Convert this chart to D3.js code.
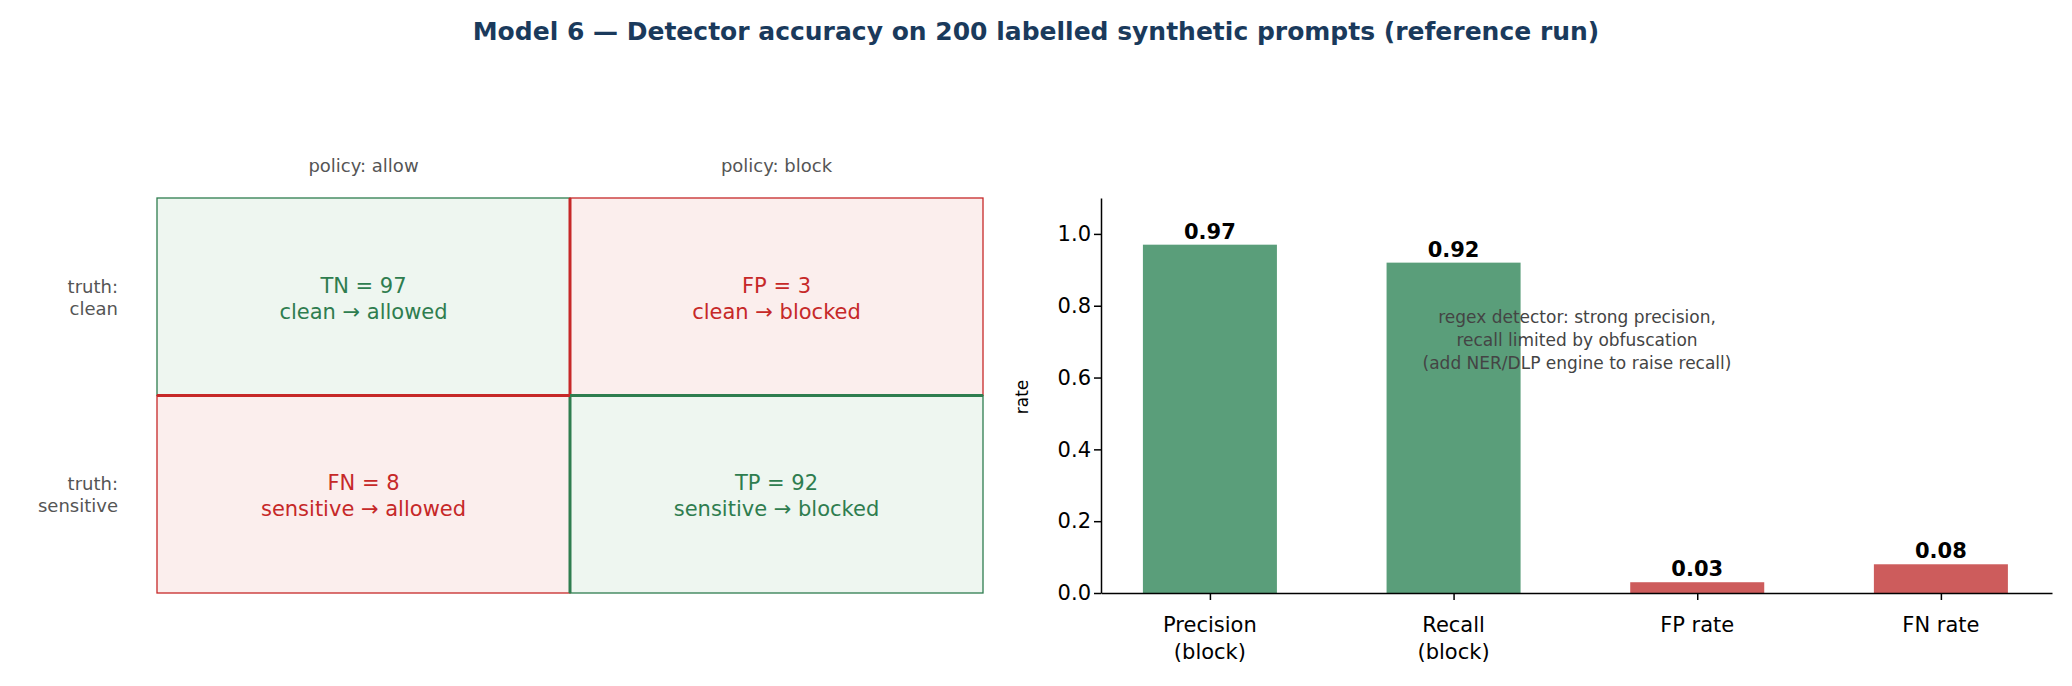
<!DOCTYPE html>
<html><head><meta charset="utf-8">
<script src="https://cdn.jsdelivr.net/npm/d3@7"></script>
<style>body{margin:0;background:#fff;font-family:"DejaVu Sans",sans-serif}</style>
</head><body><div id="chart"></div>
<script>
// confusion matrix
const colLabels = ["policy: allow", "policy: block"];
const rowLabels = [["truth:", "clean"], ["truth:", "sensitive"]];
const cells = [
  {r: 0, c: 0, label: "TN = 97", sub: "clean \u2192 allowed", good: true},
  {r: 0, c: 1, label: "FP = 3", sub: "clean \u2192 blocked", good: false},
  {r: 1, c: 0, label: "FN = 8", sub: "sensitive \u2192 allowed", good: false},
  {r: 1, c: 1, label: "TP = 92", sub: "sensitive \u2192 blocked", good: true}
];
// rates
const metrics = ["Precision\n(block)", "Recall\n(block)", "FP rate", "FN rate"];
const rates = [0.97, 0.92, 0.03, 0.08];
const yTicks = [0, 0.2, 0.4, 0.6, 0.8, 1.0];

var width = 2072, height = 686;
const green = "#2e7d4f", red = "#c62828";

const svg = d3.select("#chart").append("svg")
  .attr("width", width).attr("height", height);

svg.append("text").attr("x", 1036).attr("y", 40).attr("text-anchor", "middle")
  .attr("font-size", 25).attr("font-weight", "bold").attr("fill", "#1a3a5c")
  .text("Model 6 \u2014 Detector accuracy on 200 labelled synthetic prompts (reference run)");

// heatmap
const hx = d3.scaleBand().domain([0, 1]).range([157, 983]);
const hy = d3.scaleBand().domain([0, 1]).range([198, 593]);

const cg = svg.append("g");
cg.selectAll("rect").data(cells).join("rect")
  .attr("x", d => hx(d.c)).attr("y", d => hy(d.r))
  .attr("width", hx.bandwidth()).attr("height", hy.bandwidth())
  .attr("fill", d => d.good ? "#eef6f0" : "#fbeeed")
  .attr("stroke", d => d.good ? green : red).attr("stroke-width", 1.3);
// thicker inner edges
cg.append("line").attr("x1", hx(1)).attr("x2", hx(1)).attr("y1", hy(0)).attr("y2", hy(1))
  .attr("stroke", red).attr("stroke-width", 3);
cg.append("line").attr("x1", hx(1)).attr("x2", hx(1)).attr("y1", hy(1)).attr("y2", 593)
  .attr("stroke", green).attr("stroke-width", 3);
cg.append("line").attr("x1", hx(0)).attr("x2", hx(1)).attr("y1", hy(1)).attr("y2", hy(1))
  .attr("stroke", red).attr("stroke-width", 3);
cg.append("line").attr("x1", hx(1)).attr("x2", 983).attr("y1", hy(1)).attr("y2", hy(1))
  .attr("stroke", green).attr("stroke-width", 3);

cells.forEach(d => {
  const cx = hx(d.c) + hx.bandwidth() / 2, cy = hy(d.r) + hy.bandwidth() / 2;
  const t = cg.append("text").attr("text-anchor", "middle").attr("font-size", 21)
    .attr("fill", d.good ? green : red);
  t.append("tspan").attr("x", cx).attr("y", cy - 4).text(d.label);
  t.append("tspan").attr("x", cx).attr("y", cy + 22).text(d.sub);
});
colLabels.forEach((l, i) => {
  svg.append("text").attr("x", hx(i) + hx.bandwidth() / 2).attr("y", 172)
    .attr("text-anchor", "middle").attr("font-size", 18).attr("fill", "#555").text(l);
});
rowLabels.forEach((l, i) => {
  const t = svg.append("text").attr("text-anchor", "end").attr("font-size", 18).attr("fill", "#555");
  const cy = hy(i) + hy.bandwidth() / 2;
  t.append("tspan").attr("x", 118).attr("y", cy - 4).text(l[0]);
  t.append("tspan").attr("x", 118).attr("y", cy + 18).text(l[1]);
});

// bar chart
const x = d3.scaleLinear().domain([-0.447, 3.456]).range([1101, 2052]);
const y = d3.scaleLinear().domain([0, 1.1]).range([593, 198]);
const bw = x(0.55) - x(0);

svg.append("g").selectAll("rect").data(rates).join("rect")
  .attr("x", (d, i) => x(i) - bw / 2).attr("y", d => y(d))
  .attr("width", bw).attr("height", d => y(0) - y(d))
  .attr("fill", (d, i) => i < 2 ? "#5a9e7a" : "#cd5c5c");
svg.append("g").selectAll("text").data(rates).join("text")
  .attr("x", (d, i) => x(i)).attr("y", d => y(d) - 6).attr("text-anchor", "middle")
  .attr("font-size", 21).attr("font-weight", "bold").text(d => d.toFixed(2));

const yAxis = svg.append("g").attr("transform", "translate(1101,0)")
  .call(d3.axisLeft(y).tickValues(yTicks).tickFormat(d3.format(".1f")).tickSize(7).tickSizeOuter(0));
yAxis.selectAll("text").attr("font-size", 21).attr("fill", "#000").attr("font-family", "DejaVu Sans");
const xAxis = svg.append("g").attr("transform", "translate(0,593)")
  .call(d3.axisBottom(x).tickValues(d3.range(metrics.length)).tickFormat("").tickSize(7).tickSizeOuter(0));
xAxis.selectAll("path,line").attr("stroke-width", 1.5);
yAxis.selectAll("path,line").attr("stroke-width", 1.5);
metrics.forEach((m, i) => {
  const t = svg.append("text").attr("text-anchor", "middle").attr("font-size", 21);
  m.split("\n").forEach((p, j) => t.append("tspan").attr("x", x(i)).attr("y", 632 + j * 27).text(p));
});
svg.append("text").attr("transform", "translate(1028,397) rotate(-90)")
  .attr("text-anchor", "middle").attr("font-size", 17).text("rate");

const note = ["regex detector: strong precision,", "recall limited by obfuscation", "(add NER/DLP engine to raise recall)"];
const nt = svg.append("text").attr("text-anchor", "middle").attr("font-size", 17).attr("fill", "#444");
note.forEach((n, i) => nt.append("tspan").attr("x", 1577).attr("y", 323 + i * 23).text(n));
</script></body></html>
